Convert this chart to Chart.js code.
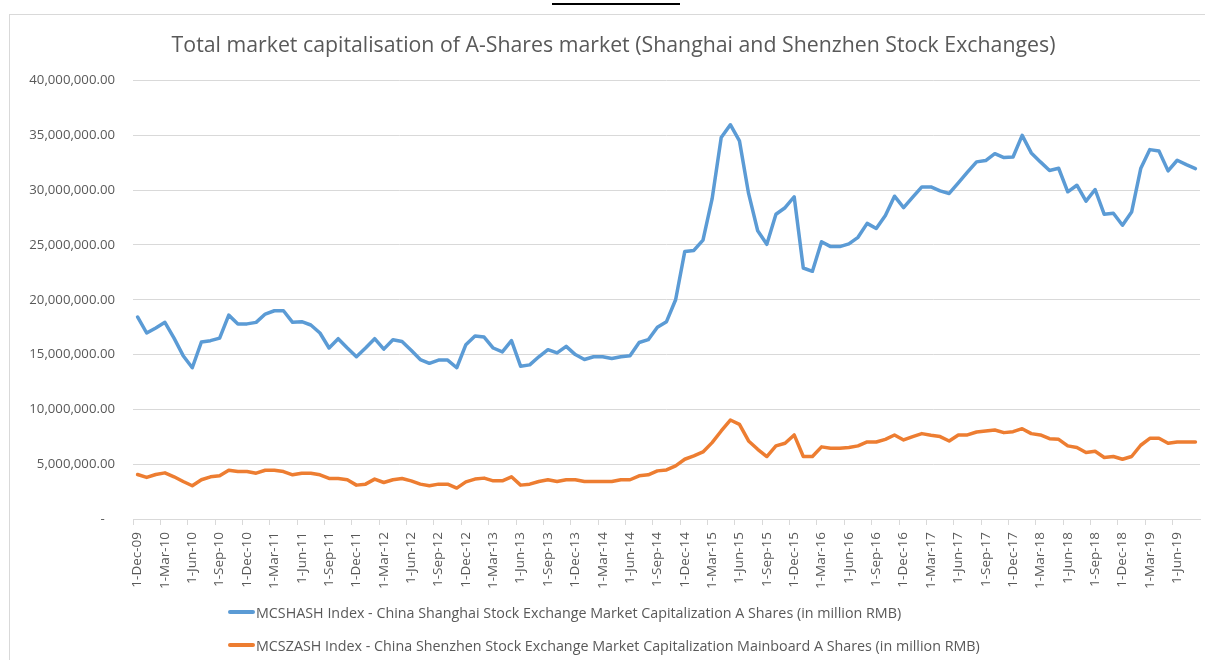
<!DOCTYPE html>
<html>
<head>
<meta charset="utf-8">
<title>A-Shares market capitalisation</title>
<script src="https://cdn.jsdelivr.net/npm/chart.js@4/dist/chart.umd.min.js"></script>
<style>
  html, body { margin: 0; padding: 0; background: #fff; }
  #wrap { position: relative; width: 1205px; height: 660px; overflow: hidden; font-family: 'Open Sans', sans-serif; }
  #frame { position: absolute; left: 9px; top: 14px; right: -2px; bottom: -2px; border-left: 1px solid #d9d9d9; border-top: 1px solid #d9d9d9; }
  #topmark { position: absolute; left: 552px; top: 3px; width: 128px; height: 2px; background: #000; }
  canvas { position: absolute; left: 0; top: 0; }
  .legend-row { position: absolute; left: 228px; height: 20px; font-size: 14.3px; color: #595959; display: flex; align-items: center; white-space: nowrap; }
  .legend-row .swatch { display: inline-block; width: 27px; height: 4px; margin-right: 1px; border-radius: 2px; }
</style>
</head>
<body>
<div id="wrap">
  <div id="frame"></div>
  <div id="topmark"></div>
  <canvas id="chart" width="1205" height="660"></canvas>
  <div id="legend"></div>
</div>
<script>
// Month labels (monthly, Dec 2009 - Aug 2019)
const months = [
  '1-Dec-09',
  '1-Jan-10','1-Feb-10','1-Mar-10','1-Apr-10','1-May-10','1-Jun-10','1-Jul-10','1-Aug-10','1-Sep-10','1-Oct-10','1-Nov-10','1-Dec-10',
  '1-Jan-11','1-Feb-11','1-Mar-11','1-Apr-11','1-May-11','1-Jun-11','1-Jul-11','1-Aug-11','1-Sep-11','1-Oct-11','1-Nov-11','1-Dec-11',
  '1-Jan-12','1-Feb-12','1-Mar-12','1-Apr-12','1-May-12','1-Jun-12','1-Jul-12','1-Aug-12','1-Sep-12','1-Oct-12','1-Nov-12','1-Dec-12',
  '1-Jan-13','1-Feb-13','1-Mar-13','1-Apr-13','1-May-13','1-Jun-13','1-Jul-13','1-Aug-13','1-Sep-13','1-Oct-13','1-Nov-13','1-Dec-13',
  '1-Jan-14','1-Feb-14','1-Mar-14','1-Apr-14','1-May-14','1-Jun-14','1-Jul-14','1-Aug-14','1-Sep-14','1-Oct-14','1-Nov-14','1-Dec-14',
  '1-Jan-15','1-Feb-15','1-Mar-15','1-Apr-15','1-May-15','1-Jun-15','1-Jul-15','1-Aug-15','1-Sep-15','1-Oct-15','1-Nov-15','1-Dec-15',
  '1-Jan-16','1-Feb-16','1-Mar-16','1-Apr-16','1-May-16','1-Jun-16','1-Jul-16','1-Aug-16','1-Sep-16','1-Oct-16','1-Nov-16','1-Dec-16',
  '1-Jan-17','1-Feb-17','1-Mar-17','1-Apr-17','1-May-17','1-Jun-17','1-Jul-17','1-Aug-17','1-Sep-17','1-Oct-17','1-Nov-17','1-Dec-17',
  '1-Jan-18','1-Feb-18','1-Mar-18','1-Apr-18','1-May-18','1-Jun-18','1-Jul-18','1-Aug-18','1-Sep-18','1-Oct-18','1-Nov-18','1-Dec-18',
  '1-Jan-19','1-Feb-19','1-Mar-19','1-Apr-19','1-May-19','1-Jun-19','1-Jul-19','1-Aug-19'
];

// MCSHASH Index (in million RMB)
const shanghai = [
  18430000,
  16970000, 17430000, 17940000, 16500000, 14900000, 13800000, 16150000, 16270000, 16500000, 18600000, 17800000, 17800000,
  17940000, 18700000, 19000000, 19000000, 17940000, 18000000, 17700000, 16970000, 15600000, 16450000, 15600000, 14800000,
  15600000, 16450000, 15500000, 16360000, 16200000, 15400000, 14550000, 14200000, 14500000, 14500000, 13800000, 15900000,
  16700000, 16600000, 15600000, 15250000, 16270000, 13940000, 14060000, 14800000, 15450000, 15150000, 15750000, 15000000,
  14550000, 14800000, 14800000, 14640000, 14800000, 14900000, 16100000, 16360000, 17500000, 18000000, 20000000, 24400000,
  24500000, 25450000, 29200000, 34800000, 35970000, 34500000, 29700000, 26300000, 25060000, 27800000, 28400000, 29400000,
  22900000, 22600000, 25300000, 24850000, 24850000, 25100000, 25700000, 26970000, 26500000, 27700000, 29450000, 28400000,
  29360000, 30300000, 30300000, 29940000, 29700000, 30670000, 31640000, 32580000, 32700000, 33330000, 32970000, 33030000,
  35000000, 33400000, 32580000, 31800000, 32000000, 29850000, 30450000, 29000000, 30060000, 27800000, 27900000, 26800000,
  28000000, 31970000, 33700000, 33570000, 31760000, 32730000, 32330000, 31970000
];

// MCSZASH Index (in million RMB)
const shenzhen = [
  4060000,
  3790000, 4060000, 4210000, 3850000, 3420000, 3030000, 3580000, 3850000, 3940000, 4450000, 4330000, 4330000,
  4180000, 4450000, 4450000, 4330000, 4030000, 4180000, 4180000, 4030000, 3700000, 3700000, 3580000, 3090000,
  3180000, 3640000, 3330000, 3580000, 3700000, 3480000, 3180000, 3030000, 3180000, 3180000, 2820000, 3390000,
  3640000, 3730000, 3480000, 3480000, 3850000, 3090000, 3180000, 3420000, 3580000, 3420000, 3580000, 3580000,
  3420000, 3420000, 3420000, 3420000, 3580000, 3580000, 3940000, 4030000, 4390000, 4480000, 4850000, 5450000,
  5760000, 6120000, 6970000, 8030000, 9030000, 8640000, 7120000, 6360000, 5700000, 6670000, 6910000, 7670000,
  5700000, 5700000, 6580000, 6450000, 6450000, 6520000, 6670000, 7030000, 7030000, 7270000, 7660000, 7210000,
  7520000, 7790000, 7640000, 7520000, 7120000, 7670000, 7670000, 7940000, 8030000, 8120000, 7880000, 7970000,
  8240000, 7790000, 7670000, 7330000, 7270000, 6670000, 6520000, 6060000, 6180000, 5610000, 5700000, 5450000,
  5700000, 6730000, 7360000, 7360000, 6910000, 7030000, 7030000, 7030000
];

const seriesNames = [
  'MCSHASH Index - China Shanghai Stock Exchange Market Capitalization A Shares (in million RMB)',
  'MCSZASH Index - China Shenzhen Stock Exchange Market Capitalization Mainboard A Shares (in million RMB)'
];
const seriesColors = ['#5b9bd5', '#ed7d31'];

const textColor = '#595959';
const gridColor = '#d9d9d9';
const fontFamily = "'Open Sans', sans-serif";

const ctx = document.getElementById('chart').getContext('2d');

const chart = new Chart(ctx, {
  type: 'line',
  data: {
    labels: months,
    datasets: [shanghai, shenzhen].map((values, i) => ({
      label: seriesNames[i],
      data: values,
      borderColor: seriesColors[i],
      backgroundColor: seriesColors[i],
      borderWidth: 3.5,
      pointRadius: 0,
      tension: 0,
      borderJoinStyle: 'round',
      borderCapStyle: 'round'
    }))
  },
  options: {
    responsive: false,
    animation: false,
    // left padding pushes the title centre to the right, y axis width makes up the rest
    layout: { padding: { left: 27, right: 5, top: 0, bottom: 0 } },
    plugins: {
      legend: { display: false },
      tooltip: { enabled: false },
      title: {
        display: true,
        text: 'Total market capitalisation of A-Shares market (Shanghai and Shenzhen Stock Exchanges)',
        color: textColor,
        font: { family: fontFamily, size: 21.3, weight: 'normal' },
        padding: { top: 33, bottom: 22 }
      }
    },
    scales: {
      x: {
        offset: true,
        afterFit: (scale) => {
          scale.height = 141;
          scale.paddingLeft = 0;
          scale.paddingRight = 0;
        },
        border: { display: true, color: gridColor, width: 1 },
        grid: {
          offset: true,
          drawOnChartArea: false,
          tickLength: 6,
          tickColor: (c) => (c.index % 3 === 0 ? gridColor : 'rgba(0,0,0,0)')
        },
        ticks: {
          autoSkip: false,
          minRotation: 90,
          maxRotation: 90,
          padding: 7,
          color: textColor,
          font: { family: fontFamily, size: 13.5 },
          callback: function (val, idx) {
            return idx % 3 === 0 ? this.getLabelForValue(val) : '';
          }
        }
      },
      y: {
        min: 0,
        max: 40000000,
        afterFit: (scale) => { scale.width = 106; },
        border: { display: false },
        grid: { color: gridColor, lineWidth: 1, drawTicks: false },
        ticks: {
          stepSize: 5000000,
          padding: 18,
          color: textColor,
          font: { family: fontFamily, size: 13.2 },
          callback: (v) => (v === 0 ? '-   ' : v.toLocaleString('en-US', { minimumFractionDigits: 2, maximumFractionDigits: 2 }))
        }
      }
    }
  }
});

// Legend rows, stacked and left-aligned like the original
const legendTops = [602, 635];
document.getElementById('legend').innerHTML = chart.data.datasets.map((ds, i) => `
  <div class="legend-row" style="top:${legendTops[i]}px">
    <span class="swatch" style="background:${ds.borderColor}"></span>${ds.label}
  </div>`).join('');
</script>
</body>
</html>
